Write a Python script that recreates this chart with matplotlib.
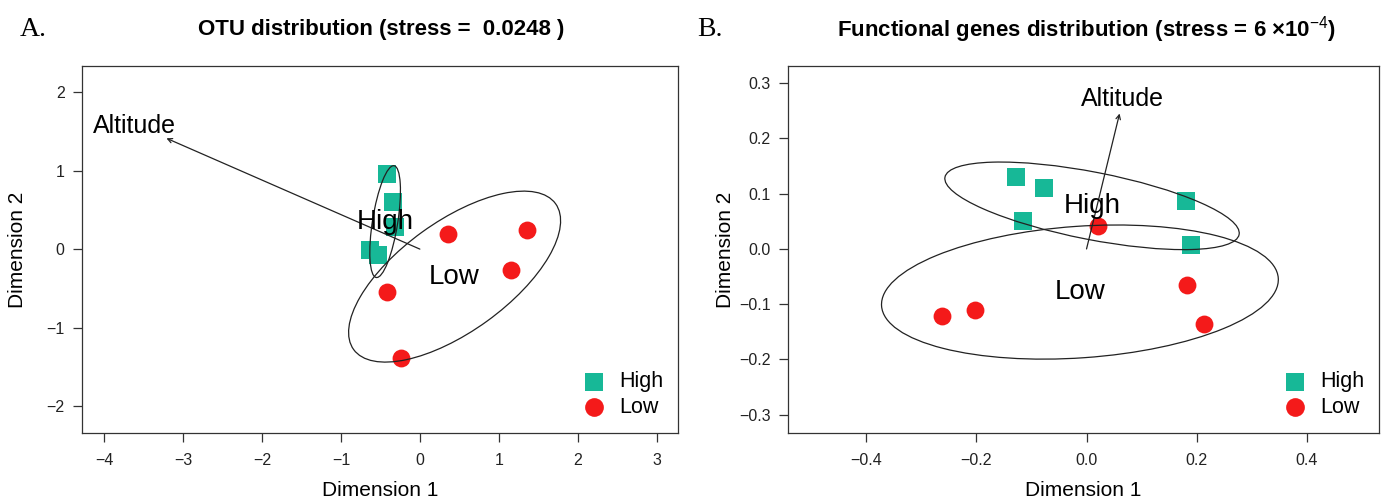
import matplotlib
matplotlib.use("Agg")
import matplotlib.pyplot as plt
from matplotlib.patches import Ellipse

plt.rcParams['font.family'] = ['Liberation Sans', 'DejaVu Sans']
plt.rcParams['mathtext.fontset'] = 'custom'
plt.rcParams['mathtext.rm'] = 'Liberation Sans'

TEAL = '#17b897'
RED = '#f41a1a'

# Panel A: OTU NMDS scores
otu_high_x = [-0.42, -0.34, -0.32, -0.63, -0.53]
otu_high_y = [0.96, 0.60, 0.28, -0.01, -0.08]
otu_low_x = [0.36, 1.36, 1.16, -0.41, -0.24]
otu_low_y = [0.19, 0.24, -0.27, -0.55, -1.39]
# ellipses: centre x, centre y, semi-major, semi-minor, angle (deg)
otu_ell_high = [-0.44, 0.35, 0.72, 0.16, 81]
otu_ell_low = [0.44, -0.35, 1.58, 0.70, 36]
otu_arrow = [-3.21, 1.41]
otu_arrow_label = [-3.61, 1.57]

# Panel B: functional genes NMDS scores
fg_high_x = [-0.128, -0.077, -0.115, 0.181, 0.189]
fg_high_y = [0.131, 0.110, 0.051, 0.086, 0.007]
fg_low_x = [0.020, -0.263, -0.202, 0.182, 0.213]
fg_low_y = [0.042, -0.121, -0.110, -0.065, -0.136]
fg_ell_high = [0.010, 0.078, 0.272, 0.061, -11]
fg_ell_low = [-0.012, -0.078, 0.361, 0.119, 4]
fg_arrow = [0.060, 0.245]
fg_arrow_label = [0.066, 0.271]


def draw_panel(ax, hx, hy, lx, ly, eh, el, arrow, arrow_lab, xlim, ylim, xticks, yticks, fmt):
    for e in (eh, el):
        ax.add_patch(Ellipse((e[0], e[1]), 2 * e[2], 2 * e[3], angle=e[4],
                             fill=False, ec='#222222', lw=0.9, zorder=2))
    ax.scatter(hx, hy, marker='s', s=150, color=TEAL, lw=0, zorder=1, label='High')
    ax.scatter(lx, ly, marker='o', s=165, color=RED, lw=0, zorder=1, label='Low')
    ax.annotate('', xy=arrow, xytext=(0, 0),
                arrowprops=dict(arrowstyle='->', lw=0.9, color='#222222',
                                mutation_scale=8, shrinkA=0, shrinkB=0))
    ax.text(arrow_lab[0], arrow_lab[1], 'Altitude', fontsize=18, ha='center', va='center')
    ax.text(eh[0], eh[1], 'High', fontsize=20, ha='center', va='center', zorder=3)
    ax.text(el[0], el[1], 'Low', fontsize=20, ha='center', va='center', zorder=3)

    ax.set_xlim(xlim)
    ax.set_ylim(ylim)
    ax.set_xticks(xticks)
    ax.set_yticks(yticks)
    ax.set_xticklabels([fmt(v).replace('-', '\u2212') for v in xticks])
    ax.set_yticklabels([fmt(v).replace('-', '\u2212') for v in yticks])
    ax.tick_params(length=6.5, width=0.9, color='#333333', labelsize=11.5,
                   labelcolor='#222222')
    ax.tick_params(axis='x', pad=8)
    ax.tick_params(axis='y', pad=6)
    for sp in ax.spines.values():
        sp.set_color('#333333')
        sp.set_linewidth(0.9)
    ax.set_xlabel('Dimension 1', fontsize=15)
    ax.set_ylabel('Dimension 2', fontsize=15)
    ax.legend(loc='lower right', frameon=False, fontsize=15.5, handletextpad=0.15,
              labelspacing=0.22, borderaxespad=0.3, markerscale=1.05)


fig = plt.figure(figsize=(13.9, 5.01), dpi=100)
axA = fig.add_axes([82 / 1390, 68 / 501, 596 / 1390, 367 / 501])
axB = fig.add_axes([788 / 1390, 68 / 501, 591 / 1390, 367 / 501])

draw_panel(axA, otu_high_x, otu_high_y, otu_low_x, otu_low_y, otu_ell_high, otu_ell_low,
           otu_arrow, otu_arrow_label, (-4.28, 3.27), (-2.34, 2.33),
           [-4, -3, -2, -1, 0, 1, 2, 3], [-2, -1, 0, 1, 2], lambda v: '%d' % v)
draw_panel(axB, fg_high_x, fg_high_y, fg_low_x, fg_low_y, fg_ell_high, fg_ell_low,
           fg_arrow, fg_arrow_label, (-0.542, 0.531), (-0.333, 0.331),
           [-0.4, -0.2, 0.0, 0.2, 0.4], [-0.3, -0.2, -0.1, 0.0, 0.1, 0.2, 0.3],
           lambda v: '%.1f' % (0.0 if abs(v) < 1e-9 else v))

axA.xaxis.set_label_coords(0.5, -0.131)
axB.xaxis.set_label_coords(0.5, -0.131)
axA.yaxis.set_label_coords(-0.092, 0.5)
axB.yaxis.set_label_coords(-0.090, 0.5)

fig.text(381 / 1390, 1 - 30 / 501, 'OTU distribution (stress =  0.0248 )',
         fontsize=16, fontweight='bold', ha='center', va='center')
fig.text(1087 / 1390, 1 - 30 / 501, 'Functional genes distribution (stress = 6 \u00d710$^{-4}$)',
         fontsize=16, fontweight='bold', ha='center', va='center')
fig.text(20 / 1390, 1 - 30 / 501, 'A.', family='Liberation Serif', fontsize=20,
         ha='left', va='center')
fig.text(697 / 1390, 1 - 30 / 501, 'B.', family='Liberation Serif', fontsize=20,
         ha='left', va='center')

fig.savefig('out.png', dpi=100, facecolor='white')
